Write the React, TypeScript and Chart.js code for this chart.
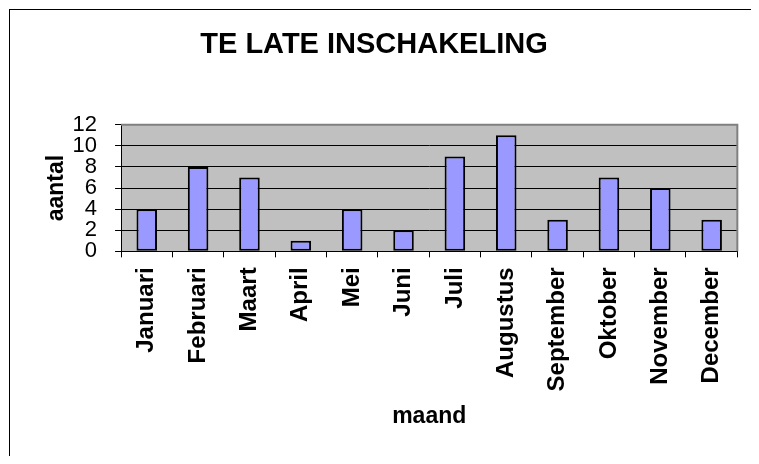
import React, { useEffect, useRef } from "react";
import { Chart, registerables } from "chart.js";

Chart.register(...registerables);

const categories = [
  "Januari", "Februari", "Maart", "April", "Mei", "Juni",
  "Juli", "Augustus", "September", "Oktober", "November", "December",
];
const values = [4, 8, 7, 1, 4, 2, 9, 11, 3, 7, 6, 3];
const yTicks = [0, 2, 4, 6, 8, 10, 12];
const titleText = "TE LATE INSCHAKELING";
const yTitle = "aantal";
const xTitle = "maand";

const FONT = "Arial, 'Liberation Sans', sans-serif";

const plotBg = {
  id: "plotBg",
  beforeDraw(chart: any) {
    const { ctx, chartArea: a } = chart;
    ctx.save();
    ctx.fillStyle = "#C0C0C0";
    ctx.fillRect(a.left, a.top, a.right - a.left, a.bottom - a.top);
    ctx.restore();
  },
  afterDraw(chart: any) {
    const { ctx, chartArea: a } = chart;
    ctx.save();
    ctx.strokeStyle = "#808080";
    ctx.lineWidth = 2;
    ctx.beginPath();
    ctx.moveTo(a.left, a.top);
    ctx.lineTo(a.right, a.top);
    ctx.lineTo(a.right, a.bottom);
    ctx.stroke();
    ctx.restore();
  },
};

export default function App() {
  const ref = useRef<HTMLCanvasElement | null>(null);
  useEffect(() => {
    if (!ref.current) return;
    const chart = new Chart(ref.current, {
      type: "bar",
      data: {
        labels: categories,
        datasets: [
          {
            data: values,
            backgroundColor: "#9999FF",
            borderColor: "#000000",
            borderWidth: 2,
            borderSkipped: false,
            categoryPercentage: 1,
            barPercentage: 0.4,
          },
        ],
      },
      options: {
        responsive: false,
        animation: false,
        layout: { padding: { left: 0, right: 13, top: 0, bottom: 0 } },
        plugins: {
          legend: { display: false },
          tooltip: { enabled: false },
          title: {
            display: true,
            text: titleText,
            color: "#000",
            font: { family: FONT, size: 29, weight: "bold" },
            padding: { top: 18, bottom: 62 },
          },
        },
        scales: {
          x: {
            grid: {
              display: true,
              drawOnChartArea: false,
              drawTicks: true,
              tickLength: 6,
              color: "#000",
              offset: true,
            },
            border: { display: true, color: "#000", width: 1 },
            ticks: {
              autoSkip: false,
              minRotation: 90,
              maxRotation: 90,
              padding: 10,
              color: "#000",
              font: { family: FONT, size: 24, weight: "bold" },
            },
            title: {
              display: true,
              text: xTitle,
              color: "#000",
              font: { family: FONT, size: 23, weight: "bold" },
              padding: { top: 1, bottom: 26 },
            },
          },
          y: {
            min: 0,
            max: 12,
            afterBuildTicks(scale: any) {
              scale.ticks = yTicks.map((v) => ({ value: v }));
            },
            grid: {
              color: "#000",
              lineWidth: 1,
              drawTicks: true,
              tickLength: 6,
            },
            border: { display: true, color: "#000", width: 1 },
            ticks: {
              autoSkip: false,
              padding: 18,
              color: "#000",
              font: { family: FONT, size: 22 },
            },
            title: {
              display: true,
              text: yTitle,
              color: "#000",
              font: { family: FONT, size: 23, weight: "bold" },
              padding: { top: 33, bottom: -16 },
            },
          },
        },
      },
      plugins: [plotBg],
    });
    return () => chart.destroy();
  }, []);

  return (
    <div
      style={{
        marginLeft: 1,
        marginTop: 1,
        borderLeft: "1px solid #000",
        borderTop: "1px solid #000",
        width: 741,
        height: 446,
      }}
    >
      <canvas ref={ref} width={741} height={446} style={{ display: "block" }} />
    </div>
  );
}
